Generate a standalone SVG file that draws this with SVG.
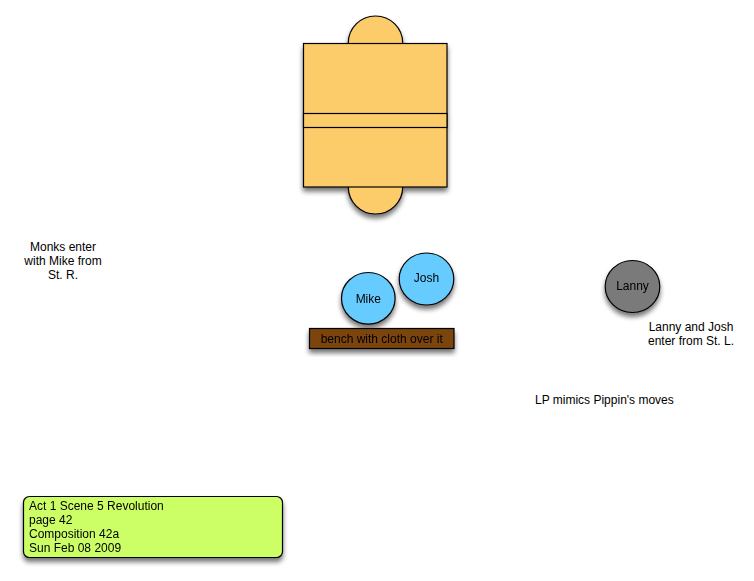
<svg xmlns="http://www.w3.org/2000/svg" width="754" height="581" viewBox="0 0 754 581">
<defs>
<filter id="sh" x="-30%" y="-30%" width="160%" height="170%">
<feGaussianBlur in="SourceAlpha" stdDeviation="2.5"/>
<feOffset dx="0" dy="4" result="b"/>
<feComponentTransfer><feFuncA type="linear" slope="0.55"/></feComponentTransfer>
<feMerge><feMergeNode/><feMergeNode in="SourceGraphic"/></feMerge>
</filter>
</defs>
<style>
.t{font-family:"Liberation Sans",Arial,sans-serif;font-size:12px;fill:#000}
.s{stroke:#000;stroke-width:1.2}
.gold{fill:#fccb6b}
.blue{fill:#66ccff}
</style>
<rect width="754" height="581" fill="#fff"/>
<g id="table" filter="url(#sh)">
<ellipse class="gold s" cx="375.5" cy="43" rx="27.2" ry="27"/>
<ellipse class="gold s" cx="375.5" cy="187" rx="27.2" ry="27"/>
<rect class="gold s" x="303.5" y="43.5" width="143.5" height="143.5"/>
<rect class="gold s" x="303.5" y="113.5" width="143.5" height="14"/>
</g>
<g id="mike" filter="url(#sh)">
<ellipse class="blue s" cx="368.3" cy="298.3" rx="26.8" ry="25.8"/>
<text class="t" x="368.3" y="302.5" text-anchor="middle" font-size="11">Mike</text>
</g>
<g id="josh" filter="url(#sh)">
<ellipse class="blue s" cx="426.5" cy="279" rx="27.3" ry="26"/>
<text class="t" x="426.5" y="281.5" text-anchor="middle" font-size="11">Josh</text>
</g>
<g id="bench" filter="url(#sh)">
<rect class="s" x="309.5" y="328.5" width="144.5" height="20" fill="#7b4511"/>
<text class="t" x="381.7" y="342.5" text-anchor="middle">bench with cloth over it</text>
</g>
<g id="lanny" filter="url(#sh)">
<ellipse class="s" cx="632.5" cy="286.5" rx="27.3" ry="26" fill="#7a7a7a"/>
<text class="t" x="632.5" y="290" text-anchor="middle" font-size="11">Lanny</text>
</g>
<g id="monks-note">
<text class="t" text-anchor="middle"><tspan x="63" y="251">Monks enter</tspan><tspan x="63" y="265">with Mike from</tspan><tspan x="63" y="279">St. R.</tspan></text>
</g>
<g id="lanny-note">
<text class="t" text-anchor="middle"><tspan x="691" y="331">Lanny and Josh</tspan><tspan x="691" y="345">enter from St. L.</tspan></text>
</g>
<g id="lp-note">
<text class="t" x="535" y="404">LP mimics Pippin's moves</text>
</g>
<g id="info" filter="url(#sh)">
<rect class="s" x="23.5" y="496.5" width="259" height="61" rx="6" fill="#ccff66"/>
<text class="t"><tspan x="29" y="510">Act 1 Scene 5 Revolution</tspan><tspan x="29" y="524">page 42</tspan><tspan x="29" y="538">Composition 42a</tspan><tspan x="29" y="552">Sun Feb 08 2009</tspan></text>
</g>
<g id="connectors"/>
</svg>
